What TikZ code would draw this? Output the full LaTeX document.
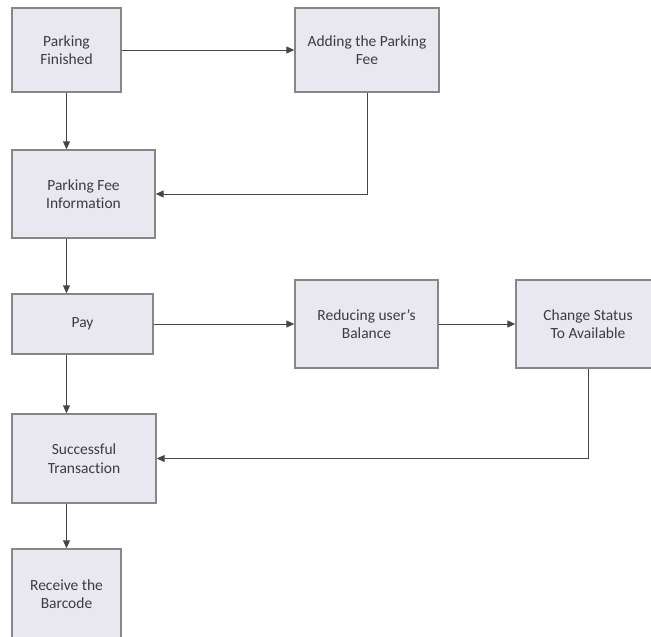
\documentclass[tikz,border=0pt]{standalone}
\usepackage{fontspec}
\setmainfont[RawFeature=-liga]{Carlito}
\usetikzlibrary{arrows.meta}
\definecolor{boxfill}{RGB}{233,232,240}
\definecolor{boxline}{RGB}{135,135,135}
\definecolor{wire}{RGB}{70,70,70}
\definecolor{ink}{RGB}{60,60,60}
\tikzset{
    stepnode/.style={draw=boxline, fill=boxfill, line width=1.4pt, inner sep=0pt,
        align=center, text=ink, font=\fontsize{15.5}{18.5}\selectfont},
    flow/.style={draw=wire, line width=1pt, -{Triangle[length=8pt,width=7pt]}}
}
\begin{document}
\begin{tikzpicture}[x=1pt,y=-1pt]
    \useasboundingbox (0,0) rectangle (651,637);
    \coordinate (c1) at (66.5, 50);
    \coordinate (c2) at (367, 50);
    \coordinate (c3) at (83.5, 194);
    \coordinate (c4) at (82.5, 324);
    \coordinate (c5) at (366.5, 324);
    \coordinate (c6) at (588, 324);
    \coordinate (c7) at (84, 458.5);
    \coordinate (c8) at (66.5, 594);
    \node[stepnode, minimum width=109pt, minimum height=84pt] (finished) at (c1) {Parking\\Finished};
    \node[stepnode, minimum width=144pt, minimum height=84pt] (addfee) at (c2) {Adding the Parking\\Fee};
    \node[stepnode, minimum width=143pt, minimum height=88pt] (feeinfo) at (c3) {Parking Fee\\Information};
    \node[stepnode, minimum width=141pt, minimum height=60pt] (pay) at (c4) {Pay};
    \node[stepnode, minimum width=143pt, minimum height=88pt] (reduce) at (c5) {Reducing user’s\\Balance};
    \node[stepnode, minimum width=144pt, minimum height=88pt] (status) at (c6) {Change Status\\To Available};
    \node[stepnode, minimum width=144pt, minimum height=89pt] (success) at (c7) {Successful\\Transaction};
    \node[stepnode, minimum width=109pt, minimum height=90pt] (barcode) at (c8) {Receive the\\Barcode};
    \draw[flow] (finished) -- (addfee);
    \draw[flow] (finished.south) -- (finished.south |- feeinfo.north);
    \draw[flow] (addfee.south) |- (feeinfo.east);
    \draw[flow] (feeinfo.south -| finished.south) -- (pay.north -| finished.south);
    \draw[flow] (pay) -- (reduce);
    \draw[flow] (reduce) -- (status);
    \draw[flow] (status.south) |- (success.east);
    \draw[flow] (pay.south -| finished.south) -- (success.north -| finished.south);
    \draw[flow] (success.south -| barcode.north) -- (barcode.north);
\end{tikzpicture}
\end{document}
